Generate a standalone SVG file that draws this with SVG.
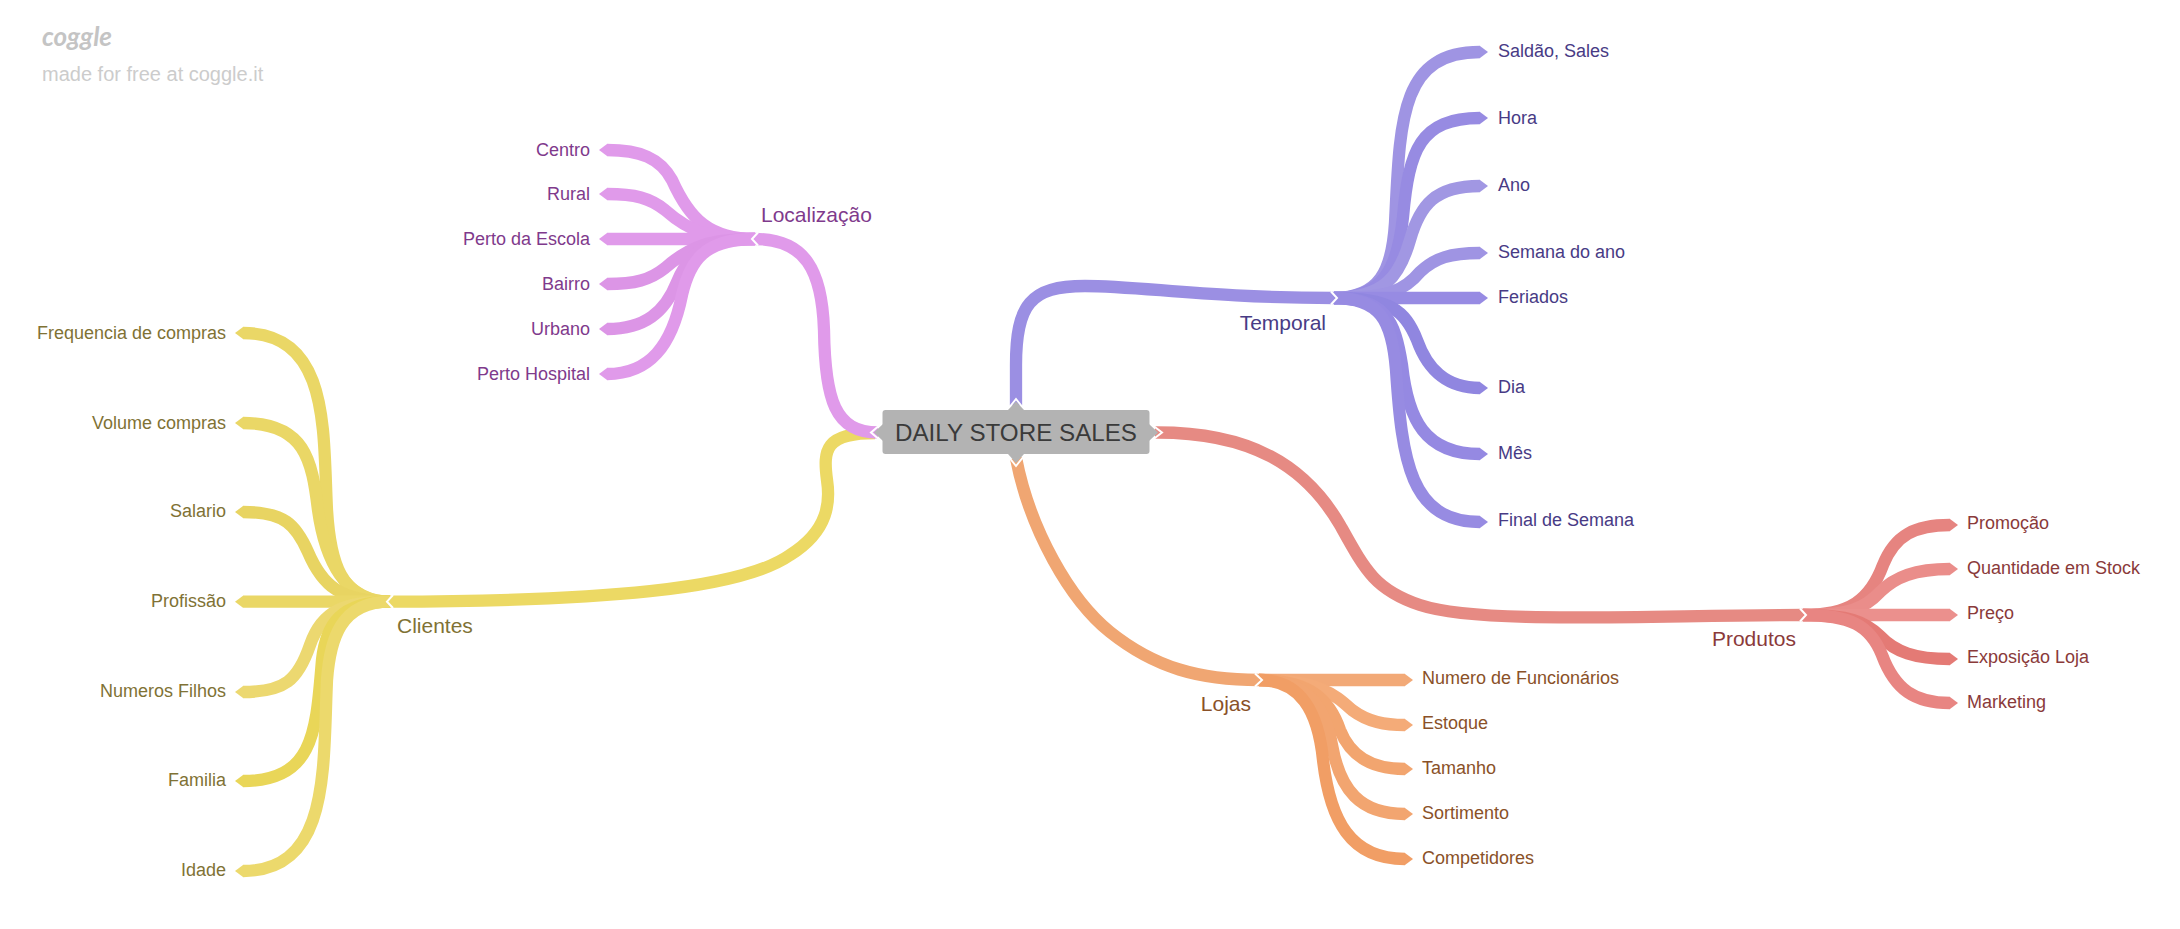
<svg xmlns="http://www.w3.org/2000/svg" width="2180" height="929" viewBox="0 0 2180 929">
<style>
text{font-family:"Liberation Sans",Arial,sans-serif}
.b{fill:none;stroke-width:12.3;stroke-linecap:butt}
.l{font-size:18px}.m{font-size:21px}
.e{text-anchor:end}
.pt{fill:#7f3a8c}.tt{fill:#483b85}.yt{fill:#7f7235}.rt{fill:#8a3a3a}.ot{fill:#8a5128}
.c{fill:none;stroke:#fff;stroke-width:2}
</style>
<g id="logo"><text x="42" y="46" font-size="26" font-weight="bold" font-style="italic" fill="#c4c4c4" style="font-family:'Lato',sans-serif">coggle</text><text x="42" y="81" font-size="20" fill="#cccccc">made for free at coggle.it</text></g>
<g id="connectors">
<path class="b" stroke="#ecd964" d="M390 601.7C600 601 740 590 790 555C830 530 830 500 827 480C823 450 825 433 875 433"/>
<path class="b" stroke="#9b8fe3" d="M1016 405.500V365C1016 305 1030 286 1085 286C1140 286 1210 298 1334 298"/>
<path class="b" stroke="#e09aea" d="M755 239C805 239 822 270 824 330C825 400 835 432.500 878 432.500"/>
<path class="b" stroke="#e68a83" d="M1155 432.500C1250 432 1305 465 1340 525C1365 570 1375 590 1420 605C1480 625 1650 615 1803 615"/>
<path class="b" stroke="#f0a672" d="M1016 458C1030 530 1070 600 1110 632C1155 668 1200 680 1259 680"/>
<path class="b" stroke="#9f94e3" d="M1334 298C1380 298 1392 270 1395 223C1400 120 1400 52 1480 52"/>
<path class="b" stroke="#978be2" d="M1334 298C1385 298 1398 265 1403 217C1409 150 1420 118 1480 118"/>
<path class="b" stroke="#a197e3" d="M1334 298C1385 298 1400 275 1410 240C1420 205 1435 186 1480 186"/>
<path class="b" stroke="#9f94e3" d="M1334 298C1390 298 1405 290 1420 272C1435 258 1450 253 1480 253"/>
<path class="b" stroke="#978be3" d="M1334 298H1480"/>
<path class="b" stroke="#9086e0" d="M1334 298C1390 298 1405 310 1417 340C1427 368 1445 388 1480 388"/>
<path class="b" stroke="#9589e2" d="M1334 298C1385 298 1395 320 1402 365C1408 420 1425 454 1480 454"/>
<path class="b" stroke="#978be2" d="M1334 298C1380 298 1392 320 1396 370C1402 460 1410 522 1480 522"/>
<path class="b" stroke="#e09aea" d="M755 239C710 239 690 220 672 180C660 158 640 150 607 150"/>
<path class="b" stroke="#e09aea" d="M755 239C710 239 690 232 665 210C650 198 635 194 607 194"/>
<path class="b" stroke="#e09aea" d="M755 239H607"/>
<path class="b" stroke="#dc95e6" d="M755 239C710 239 690 246 665 268C650 280 635 284 607 284"/>
<path class="b" stroke="#dc95e6" d="M755 239C710 239 690 250 677 282C665 312 645 329 607 329"/>
<path class="b" stroke="#e09aea" d="M755 239C705 239 690 260 682 295C672 345 650 374 607 374"/>
<path class="b" stroke="#ead766" d="M390 601.700C340 601.700 330 560 327 510C323 430 330 333 243 333"/>
<path class="b" stroke="#ead766" d="M390 601.700C345 601.700 325 560 318 510C312 460 305 423 243 423"/>
<path class="b" stroke="#e8d462" d="M390 601.700C340 601.700 322 585 308 552C296 525 285 512 243 512"/>
<path class="b" stroke="#ead766" d="M390 601.700H243"/>
<path class="b" stroke="#ecd870" d="M390 601.700C345 601.700 322 610 310 645C298 680 285 692 243 692"/>
<path class="b" stroke="#e9d658" d="M390 601.700C340 601.700 326 625 322 660C316 730 315 781 243 781"/>
<path class="b" stroke="#ecd96c" d="M390 601.700C340 601.700 330 640 327 680C323 770 330 871 243 871"/>
<path class="b" stroke="#e68480" d="M1803 615C1850 615 1870 600 1883 565C1895 535 1915 525 1950 525"/>
<path class="b" stroke="#ea8d8a" d="M1803 615C1850 615 1865 608 1880 592C1895 577 1915 569 1950 569"/>
<path class="b" stroke="#eb908d" d="M1803 615H1950"/>
<path class="b" stroke="#e47a75" d="M1803 615C1850 615 1865 622 1880 636C1895 652 1915 659 1950 659"/>
<path class="b" stroke="#e88582" d="M1803 615C1850 615 1870 625 1882 655C1895 690 1915 703 1950 703"/>
<path class="b" stroke="#f2a977" d="M1259 680H1405"/>
<path class="b" stroke="#f4ab78" d="M1259 680C1320 680 1335 695 1352 710C1368 722 1385 725 1405 725"/>
<path class="b" stroke="#f2a56f" d="M1259 680C1310 680 1330 700 1340 730C1350 755 1370 769 1405 769"/>
<path class="b" stroke="#f2a570" d="M1259 680C1305 680 1325 705 1332 745C1340 790 1360 814 1405 814"/>
<path class="b" stroke="#f19e65" d="M1259 680C1300 680 1318 710 1323 760C1330 820 1350 859 1405 859"/>
</g>
<g id="root">
<polyline class="c" points="1008,409 1016,399 1024,409"/>
<polyline class="c" points="1008,456 1016,466 1024,456"/>
<polyline class="c" points="881,424 871,432.500 881,441"/>
<polyline class="c" points="1151,424 1162,432.500 1151,441"/>
<polygon fill="#b3b3b3" points="1016,401.500 1024,410 1008,410"/>
<polygon fill="#b3b3b3" points="1016,463 1024,454 1008,454"/>
<polygon fill="#b3b3b3" points="874,432.500 883,424 883,441"/>
<polygon fill="#b3b3b3" points="1158,432.500 1149,424 1149,441"/>
<rect x="882.500" y="410" width="267" height="44" rx="3" fill="#b3b3b3"/>
<text x="1016" y="440.500" font-size="24.200" text-anchor="middle" fill="#3a3a3a">DAILY STORE SALES</text>
</g>
<g id="temporal"><path class="c" d="M1331 291.500L1337 298L1331 304.500"/><text class="m tt e" x="1326" y="330">Temporal</text></g>
<g id="t1"><polygon fill="#9f94e3" points="1480,46 1488,52 1480,58"/><text class="l tt" x="1498" y="57">Saldão, Sales</text></g>
<g id="t2"><polygon fill="#978be2" points="1480,112 1488,118 1480,124"/><text class="l tt" x="1498" y="124">Hora</text></g>
<g id="t3"><polygon fill="#a197e3" points="1480,180 1488,186 1480,192"/><text class="l tt" x="1498" y="191">Ano</text></g>
<g id="t4"><polygon fill="#9f94e3" points="1480,247 1488,253 1480,259"/><text class="l tt" x="1498" y="258">Semana do ano</text></g>
<g id="t5"><polygon fill="#978be3" points="1480,292 1488,298 1480,304"/><text class="l tt" x="1498" y="303">Feriados</text></g>
<g id="t6"><polygon fill="#9086e0" points="1480,382 1488,388 1480,394"/><text class="l tt" x="1498" y="393">Dia</text></g>
<g id="t7"><polygon fill="#9589e2" points="1480,448 1488,454 1480,460"/><text class="l tt" x="1498" y="459">Mês</text></g>
<g id="t8"><polygon fill="#978be2" points="1480,516 1488,522 1480,528"/><text class="l tt" x="1498" y="526">Final de Semana</text></g>
<g id="localizacao"><path class="c" d="M758 232.500L752 239L758 245.500"/><text class="m pt" x="761" y="222">Localização</text></g>
<g id="p1"><polygon fill="#e09aea" points="607,144 599,150 607,156"/><text class="l pt e" x="590" y="156">Centro</text></g>
<g id="p2"><polygon fill="#e09aea" points="607,188 599,194 607,200"/><text class="l pt e" x="590" y="200">Rural</text></g>
<g id="p3"><polygon fill="#e09aea" points="607,233 599,239 607,245"/><text class="l pt e" x="590" y="245">Perto da Escola</text></g>
<g id="p4"><polygon fill="#dc95e6" points="607,278 599,284 607,290"/><text class="l pt e" x="590" y="290">Bairro</text></g>
<g id="p5"><polygon fill="#dc95e6" points="607,323 599,329 607,335"/><text class="l pt e" x="590" y="335">Urbano</text></g>
<g id="p6"><polygon fill="#e09aea" points="607,368 599,374 607,380"/><text class="l pt e" x="590" y="380">Perto Hospital</text></g>
<g id="clientes"><path class="c" d="M393 595L387 601.700L393 608"/><text class="m yt" x="397" y="633">Clientes</text></g>
<g id="y1"><polygon fill="#ead766" points="243,327 235,333 243,339"/><text class="l yt e" x="226" y="339">Frequencia de compras</text></g>
<g id="y2"><polygon fill="#ead766" points="243,417 235,423 243,429"/><text class="l yt e" x="226" y="429">Volume compras</text></g>
<g id="y3"><polygon fill="#e8d462" points="243,506 235,512 243,518"/><text class="l yt e" x="226" y="517">Salario</text></g>
<g id="y4"><polygon fill="#ead766" points="243,595.700 235,601.700 243,607.700"/><text class="l yt e" x="226" y="607">Profissão</text></g>
<g id="y5"><polygon fill="#ecd870" points="243,686 235,692 243,698"/><text class="l yt e" x="226" y="697">Numeros Filhos</text></g>
<g id="y6"><polygon fill="#e9d658" points="243,775 235,781 243,787"/><text class="l yt e" x="226" y="786">Familia</text></g>
<g id="y7"><polygon fill="#ecd96c" points="243,865 235,871 243,877"/><text class="l yt e" x="226" y="876">Idade</text></g>
<g id="produtos"><path class="c" d="M1800 608.500L1806 615L1800 621.500"/><text class="m rt e" x="1796" y="646">Produtos</text></g>
<g id="r1"><polygon fill="#e68480" points="1950,519 1958,525 1950,531"/><text class="l rt" x="1967" y="529">Promoção</text></g>
<g id="r2"><polygon fill="#ea8d8a" points="1950,563 1958,569 1950,575"/><text class="l rt" x="1967" y="574">Quantidade em Stock</text></g>
<g id="r3"><polygon fill="#eb908d" points="1950,609 1958,615 1950,621"/><text class="l rt" x="1967" y="619">Preço</text></g>
<g id="r4"><polygon fill="#e47a75" points="1950,653 1958,659 1950,665"/><text class="l rt" x="1967" y="663">Exposição Loja</text></g>
<g id="r5"><polygon fill="#e88582" points="1950,697 1958,703 1950,709"/><text class="l rt" x="1967" y="708">Marketing</text></g>
<g id="lojas"><path class="c" d="M1255 673.500L1262 680L1255 686.500"/><text class="m ot e" x="1251" y="711">Lojas</text></g>
<g id="o1"><polygon fill="#f2a977" points="1405,674 1413,680 1405,686"/><text class="l ot" x="1422" y="684">Numero de Funcionários</text></g>
<g id="o2"><polygon fill="#f4ab78" points="1405,719 1413,725 1405,731"/><text class="l ot" x="1422" y="729">Estoque</text></g>
<g id="o3"><polygon fill="#f2a56f" points="1405,763 1413,769 1405,775"/><text class="l ot" x="1422" y="774">Tamanho</text></g>
<g id="o4"><polygon fill="#f2a570" points="1405,808 1413,814 1405,820"/><text class="l ot" x="1422" y="819">Sortimento</text></g>
<g id="o5"><polygon fill="#f19e65" points="1405,853 1413,859 1405,865"/><text class="l ot" x="1422" y="864">Competidores</text></g>
</svg>
